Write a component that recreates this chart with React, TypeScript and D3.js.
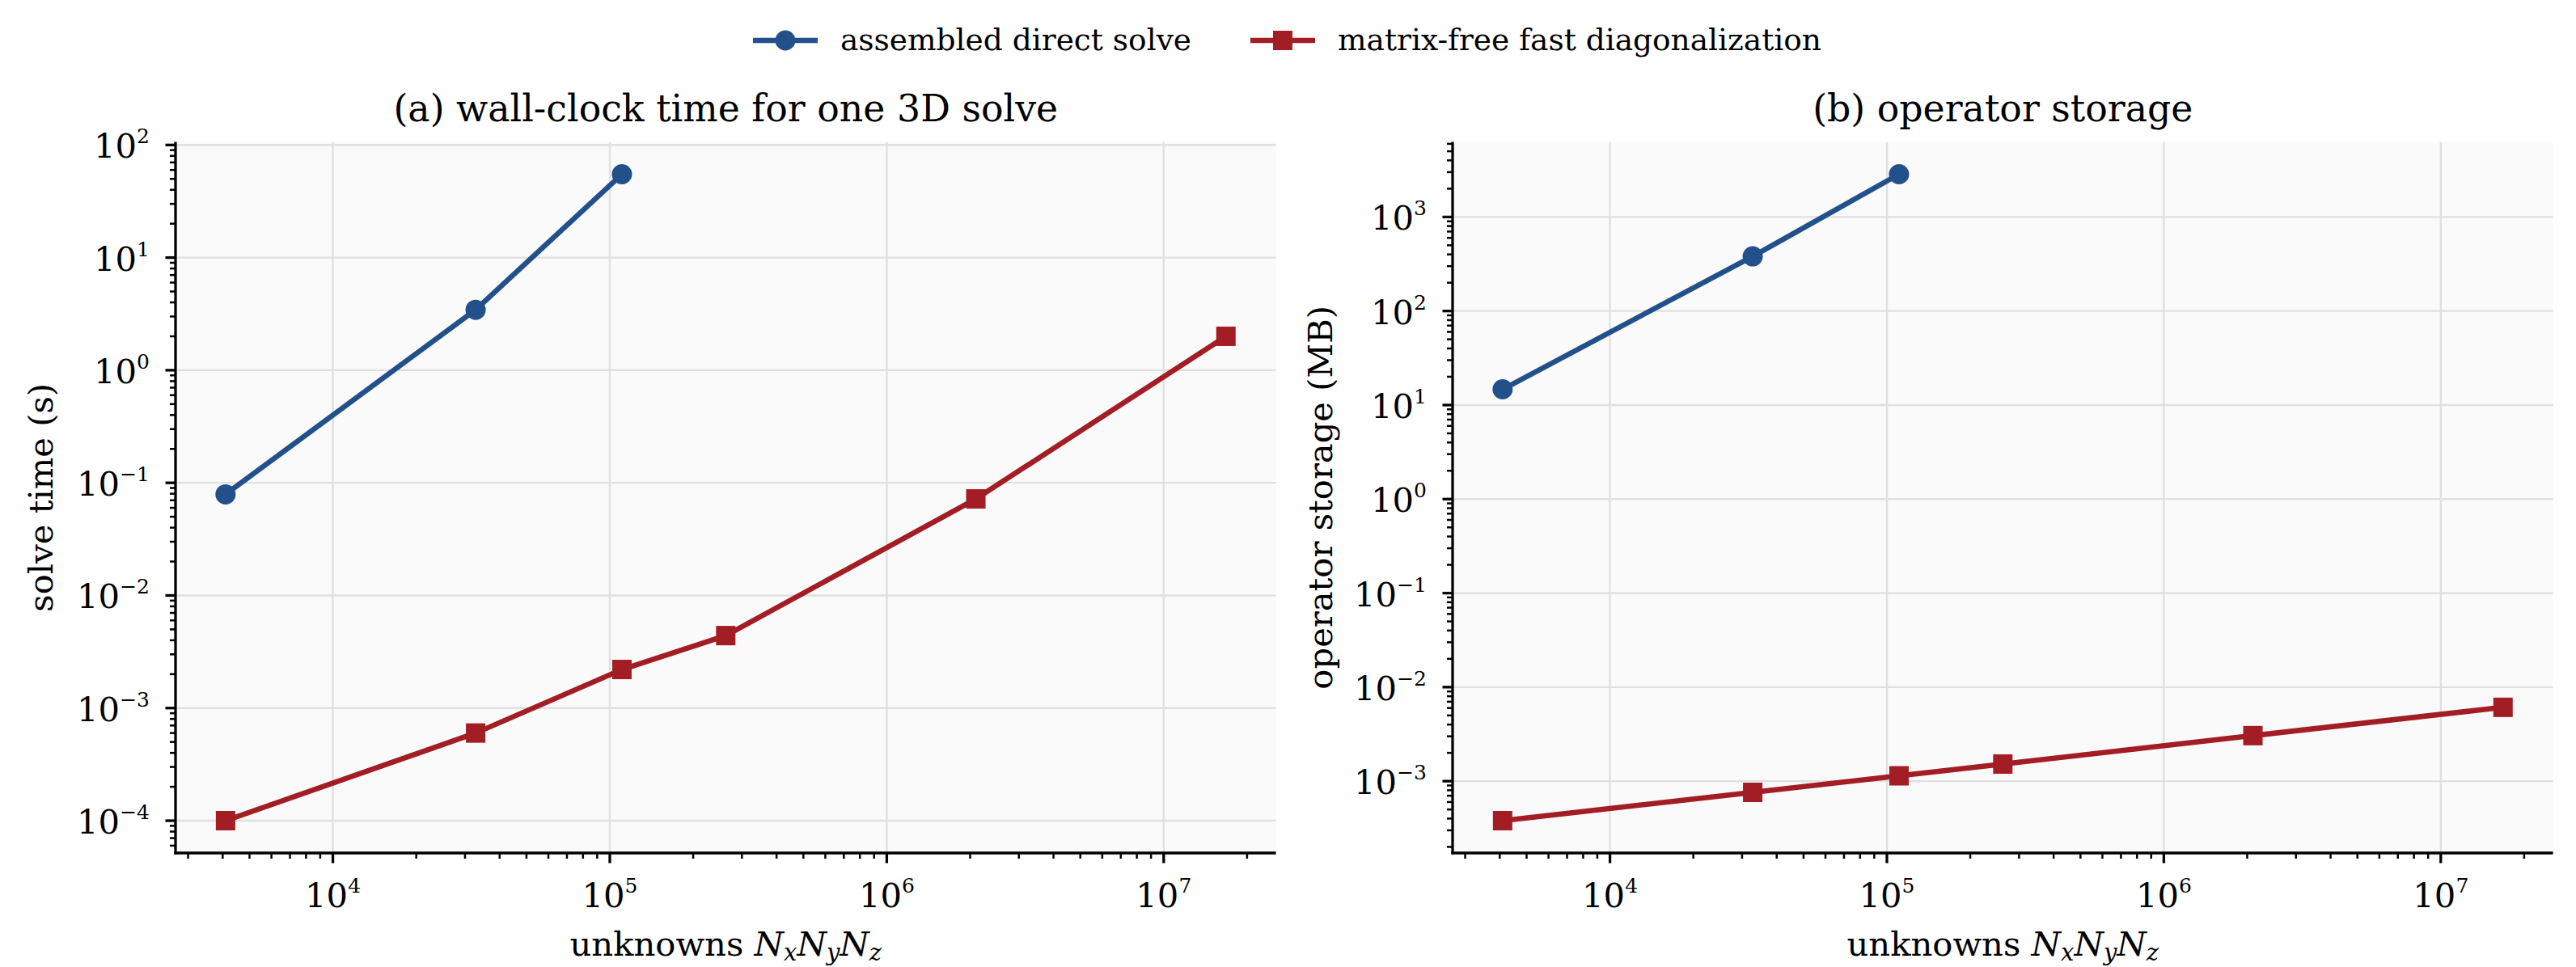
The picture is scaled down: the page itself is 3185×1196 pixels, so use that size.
import React from 'react'
import * as d3 from 'd3'

// problem sizes N = Nx*Ny*Nz (16^3 ... 256^3)
const unknowns = [4096, 32768, 110592, 262144, 2097152, 16777216]
const directUnknowns = [4096, 32768, 110592]

// (a) wall-clock time, seconds
const directTime = [0.079, 3.44, 55]
const fastTime = [1.0e-4, 6.0e-4, 2.2e-3, 4.4e-3, 0.072, 2.0]

// (b) operator storage, MB
const directStorage = [14.7, 381, 2850]
const fastStorage = [3.8e-4, 7.6e-4, 1.14e-3, 1.52e-3, 3.05e-3, 6.1e-3]

const seriesNames = ['assembled direct solve', 'matrix-free fast diagonalization']
const panelTitles = ['(a) wall-clock time for one 3D solve', '(b) operator storage']
const yLabels = ['solve time (s)', 'operator storage (MB)']

const W = 3185
const H = 1196
const TOP = 175.5
const BOTTOM = 1055
const PW = 1360.6
const panelLeft = [217, 1796]
const yLabelX = [65, 1647]

const blue = '#22508a'
const red = '#a31d24'
const font = 'DejaVu Serif'
const TICK_FS = 41.7
const SUP_FS = 25

// matplotlib-like autoscale: 5% margin in log space
const logExtent = (vals: number[]) => {
	const [a, b] = d3.extent(vals.map(Math.log10)) as [number, number]
	const m = (b - a) * 0.05
	return [10 ** (a - m), 10 ** (b + m)]
}

const expText = (e: number) => (e < 0 ? '\u2212' + -e : String(e))

const logTicks = (scale: d3.ScaleLogarithmic<number, number>) => {
	const [a, b] = scale.domain().map(Math.log10)
	const majors: number[] = []
	const minors: number[] = []
	for (let e = Math.floor(a); e <= Math.ceil(b); e++) {
		if (e >= a - 1e-9 && e <= b + 1e-9) majors.push(e)
		for (let k = 2; k <= 9; k++) {
			const l = e + Math.log10(k)
			if (l >= a && l <= b) minors.push(10 ** l)
		}
	}
	return { majors, minors }
}

const Panel = ({ i, direct, fast }: { i: number; direct: number[]; fast: number[] }) => {
	const left = panelLeft[i]
	const right = left + PW
	const x = d3.scaleLog().domain(logExtent(unknowns)).range([left, right])
	const y = d3.scaleLog().domain(logExtent([...direct, ...fast])).range([BOTTOM, TOP])
	const xt = logTicks(x)
	const yt = logTicks(y)
	const line = d3
		.line<[number, number]>()
		.x((d) => x(d[0]))
		.y((d) => y(d[1]))
	const directPts = directUnknowns.map((n, j) => [n, direct[j]] as [number, number])
	const fastPts = unknowns.map((n, j) => [n, fast[j]] as [number, number])
	const cx = (left + right) / 2

	return (
		<g>
			<rect x={left} y={TOP} width={PW} height={BOTTOM - TOP} fill="#fafafa" />
			{xt.majors.map((e) => (
				<line key={'gx' + e} x1={x(10 ** e)} x2={x(10 ** e)} y1={TOP} y2={BOTTOM} stroke="#e0e0e0" strokeWidth={2.4} />
			))}
			{yt.majors.map((e) => (
				<line key={'gy' + e} x1={left} x2={right} y1={y(10 ** e)} y2={y(10 ** e)} stroke="#e0e0e0" strokeWidth={2.4} />
			))}

			<path d={line(directPts) || ''} fill="none" stroke={blue} strokeWidth={6.5} strokeLinejoin="round" />
			{directPts.map((d, j) => (
				<circle key={'b' + j} cx={x(d[0])} cy={y(d[1])} r={12.5} fill={blue} />
			))}
			<path d={line(fastPts) || ''} fill="none" stroke={red} strokeWidth={6.5} strokeLinejoin="round" />
			{fastPts.map((d, j) => (
				<rect key={'r' + j} x={x(d[0]) - 12} y={y(d[1]) - 12} width={24} height={24} fill={red} />
			))}

			{/* spines */}
			<line x1={left} x2={left} y1={TOP} y2={BOTTOM + 1.6} stroke="#000" strokeWidth={3.3} />
			<line x1={left - 1.6} x2={right} y1={BOTTOM} y2={BOTTOM} stroke="#000" strokeWidth={3.3} />

			{/* x ticks */}
			{xt.minors.map((v, j) => (
				<line key={'xm' + j} x1={x(v)} x2={x(v)} y1={BOTTOM} y2={BOTTOM + 7} stroke="#000" strokeWidth={2.5} />
			))}
			{xt.majors.map((e) => (
				<g key={'xM' + e}>
					<line x1={x(10 ** e)} x2={x(10 ** e)} y1={BOTTOM} y2={BOTTOM + 12.5} stroke="#000" strokeWidth={3.3} />
					<text x={x(10 ** e)} y={1122} textAnchor="middle" fontFamily={font} fontSize={TICK_FS}>
						10
						<tspan fontSize={SUP_FS} dy={-18}>
							{expText(e)}
						</tspan>
					</text>
				</g>
			))}

			{/* y ticks */}
			{yt.minors.map((v, j) => (
				<line key={'ym' + j} x1={left} x2={left - 7} y1={y(v)} y2={y(v)} stroke="#000" strokeWidth={2.5} />
			))}
			{yt.majors.map((e) => (
				<g key={'yM' + e}>
					<line x1={left} x2={left - 12.5} y1={y(10 ** e)} y2={y(10 ** e)} stroke="#000" strokeWidth={3.3} />
					<text x={left - 32} y={y(10 ** e) + 16} textAnchor="end" fontFamily={font} fontSize={TICK_FS}>
						10
						<tspan fontSize={SUP_FS} dy={-18}>
							{expText(e)}
						</tspan>
					</text>
				</g>
			))}

			<text x={cx} y={150} textAnchor="middle" fontFamily={font} fontSize={45.8}>
				{panelTitles[i]}
			</text>
			<text x={cx} y={1182} textAnchor="middle" fontFamily={font} fontSize={TICK_FS}>
				{'unknowns '}
				<tspan fontStyle="italic">N</tspan>
				<tspan fontStyle="italic" fontSize={29} dy={6}>x</tspan>
				<tspan fontStyle="italic" dy={-6}>N</tspan>
				<tspan fontStyle="italic" fontSize={29} dy={6}>y</tspan>
				<tspan fontStyle="italic" dy={-6}>N</tspan>
				<tspan fontStyle="italic" fontSize={29} dy={6}>z</tspan>
			</text>
			<text
				transform={`translate(${yLabelX[i]},${(TOP + BOTTOM) / 2}) rotate(-90)`}
				textAnchor="middle"
				fontFamily={font}
				fontSize={TICK_FS}
			>
				{yLabels[i]}
			</text>
		</g>
	)
}

const Legend = () => {
	const items = [
		{ x0: 931, color: blue, marker: 'circle' },
		{ x0: 1546, color: red, marker: 'square' },
	]
	return (
		<g>
			{items.map((it, k) => (
				<g key={k}>
					<line x1={it.x0} x2={it.x0 + 80} y1={50} y2={50} stroke={it.color} strokeWidth={6.5} />
					{it.marker === 'circle' ? (
						<circle cx={it.x0 + 40} cy={50} r={12.5} fill={it.color} />
					) : (
						<rect x={it.x0 + 28} y={38} width={24} height={24} fill={it.color} />
					)}
					<text x={it.x0 + 108} y={62} fontFamily={font} fontSize={37.5}>
						{seriesNames[k]}
					</text>
				</g>
			))}
		</g>
	)
}

export default function App() {
	return (
		<svg width={W} height={H} style={{ position: 'absolute', left: 0, top: 0, background: '#fff' }}>
			<rect width={W} height={H} fill="#fff" />
			<Legend />
			<Panel i={0} direct={directTime} fast={fastTime} />
			<Panel i={1} direct={directStorage} fast={fastStorage} />
		</svg>
	)
}
